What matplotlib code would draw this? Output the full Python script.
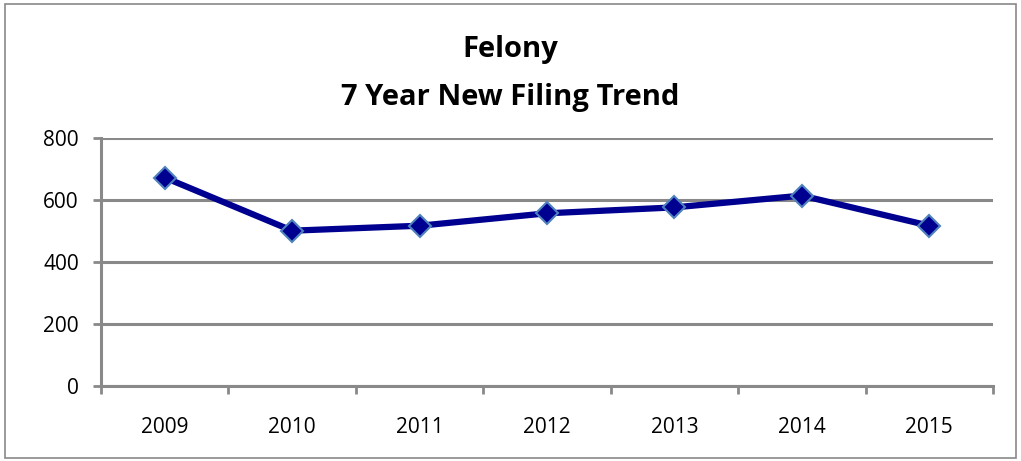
import matplotlib.pyplot as plt
from matplotlib.patches import Rectangle

years = ['2009', '2010', '2011', '2012', '2013', '2014', '2015']
filings = [671, 500, 516, 556, 575, 613, 516]
yticks = [0, 200, 400, 600, 800]

plt.rcParams['font.family'] = ['Open Sans', 'DejaVu Sans']
grey = '#898989'

fig = plt.figure(figsize=(10.21, 4.61), dpi=100)
ax = fig.add_axes([101/1021, 1 - 386/461, (993 - 101)/1021, (386 - 137.5)/461])

x = list(range(len(years)))
ax.plot(x, filings, color='#000090', lw=4.5, marker='D', ms=11,
        mfc='#000090', mec='#4F81BD', mew=1.5, solid_joinstyle='miter', zorder=3)

ax.set_xlim(-0.5, len(years) - 0.5)
ax.set_ylim(0, 800)
ax.set_yticks(yticks)
ax.set_xticks(x)
ax.set_xticklabels(years)
ax.set_xticks([i - 0.5 for i in range(len(years) + 1)], minor=True)
ax.tick_params(axis='x', which='major', length=0, pad=22, labelsize=15)
ax.tick_params(axis='x', which='minor', length=6, width=2, color=grey, direction='out')
ax.tick_params(axis='y', length=6, width=2, color=grey, direction='out', labelsize=15, pad=10)
ax.grid(axis='y', color=grey, lw=2.2)
ax.set_axisbelow(True)
for s in ['top', 'right']:
    ax.spines[s].set_visible(False)
for s in ['left', 'bottom']:
    ax.spines[s].set_color(grey)
    ax.spines[s].set_linewidth(2.2)

fig.text(0.5, 1 - 50/461, 'Felony', ha='center', va='center', fontsize=21, fontweight='bold')
fig.text(0.5, 1 - 97/461, '7 Year New Filing Trend', ha='center', va='center',
         fontsize=21, fontweight='bold')

fig.patches.append(Rectangle((5/1021, 3/461), 1011/1021, 454/461, transform=fig.transFigure,
                             fill=False, edgecolor=grey, lw=1.2))

fig.savefig('out.png', dpi=100)
